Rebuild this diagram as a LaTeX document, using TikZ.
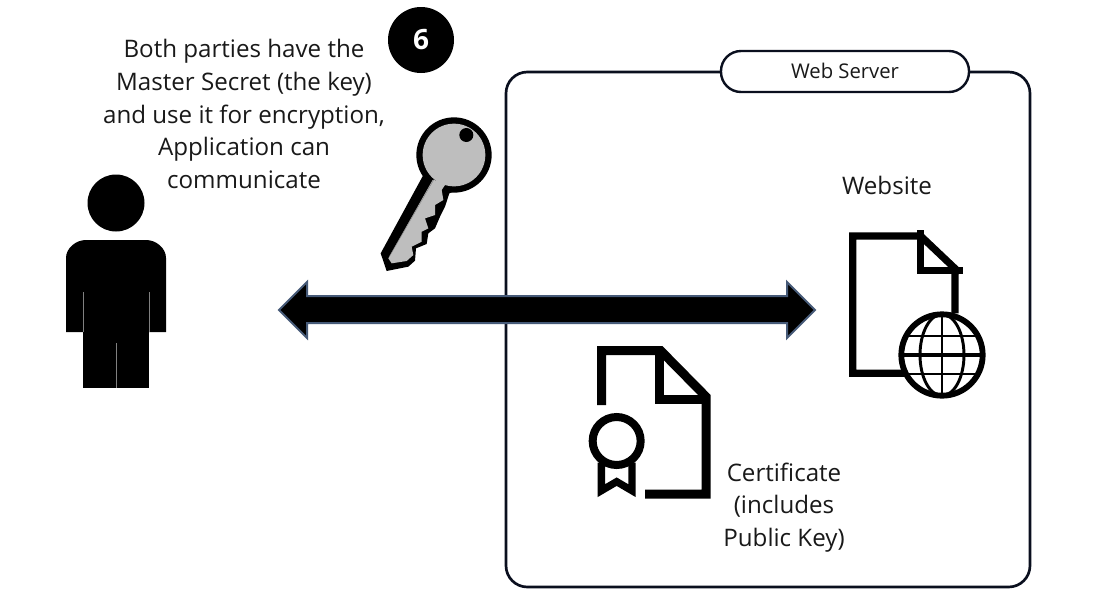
\documentclass[tikz,border=0pt]{standalone}
\usepackage{fontspec}
\setmainfont{Open Sans}
\definecolor{keygrey}{RGB}{190,190,190}
\definecolor{arrowedge}{RGB}{70,90,120}
\definecolor{frame}{RGB}{10,15,30}
\tikzset{
  x=0.75pt,y=-0.75pt,
  lbl/.style={font=\fontsize{18.1pt}{24.4pt}\selectfont,align=center,text=black!90,inner sep=0pt},
  smalllbl/.style={font=\fontsize{15.2pt}{18pt}\selectfont,text=black!90,inner sep=0pt},
  docline/.style={line width=6.75pt,draw=black,miter limit=10},
  globeline/.style={draw=black,line width=2.2pt},
}
\begin{document}
\begin{tikzpicture}
\useasboundingbox[fill=white] (0,0) rectangle (1097,597);
% server frame
\draw[frame,line width=2pt,fill=white,rounded corners=16pt] (506,72) rectangle (1030,587);
\draw[frame,line width=1.8pt,fill=white,rounded corners=15pt] (721,51) rectangle (969,92);
\node[smalllbl] (serverlabel) at (845,71) {Web Server};
% person
\fill (116,203) circle[radius=28.5];
\fill (66,332) -- (66,258) .. controls (66,248) and (76,240) .. (86,240) -- (146,240) .. controls (156,240) and (166,248) .. (166,258) -- (166,332) -- cycle;
\fill (83,300) rectangle (149,388);
\draw[gray,line width=0.5pt] (83,292) -- (83,332) (149,292) -- (149,332) (116,343) -- (116,388);
% circled number
\node[circle,fill=black,minimum size=49.5pt,inner sep=0pt,text=white,font=\fontsize{21pt}{23pt}\selectfont\bfseries] (six) at (421,40) {6};
% text
\node[lbl] (bothparties) at (244,114) {Both parties have the\\Master Secret (the key)\\and use it for encryption,\\Application can\\communicate};
\node[lbl] (website) at (887,185.5) {Website};
\node[lbl] (certificate) at (784,507.5) {Certificate\\(includes\\Public Key)};
% key
\begin{scope}[shift={(360,100)},x=0.25pt,y=-0.25pt]
\fill (190,225) -- (62,460) -- (80,513) -- (145,500) -- (165,482) -- (168,445) -- (200,432) -- (205,400) -- (225,385) -- (240,350) -- (255,320) -- (268,280) -- (290,270) -- cycle;
\fill (282,165) circle[radius=113];
\fill[keygrey] (282,165) circle[radius=94];
\fill[keygrey] (218,240) -- (85,475) -- (95,490) -- (140,483) -- (160,465) -- (155,440) -- (185,425) -- (185,395) -- (205,385) -- (195,355) -- (225,345) -- (225,315) -- (250,300) -- (245,270) -- (262,245) -- cycle;
\draw[gray,line width=0.3pt] (222,238) -- (88,470);
\fill (319,105) circle[radius=21];
\end{scope}
% certificate icon
\begin{scope}[shift={(570,330)},x=0.25pt,y=-0.25pt]
\draw[docline,miter limit=2] (95,225) -- (95,62) -- (272,62) -- (408,200) -- (408,492) -- (225,492);
\draw[docline,miter limit=2] (268,62) -- (268,207) -- (408,207);
\draw[black,line width=6pt] (140,333) circle[radius=72];
\draw[black,line width=5.5pt,miter limit=3] (94,398) -- (94,482) -- (140,455) -- (186,482) -- (186,398);
\end{scope}
% website icon
\begin{scope}[shift={(830,220)},x=0.25pt,y=-0.25pt]
\draw[docline,line width=5.4pt,miter limit=2] (240,460) -- (68,460) -- (68,48) -- (272,48) -- (385,155) -- (375,155) -- (375,280);
\draw[docline,line width=5.4pt,miter limit=2] (272,30) -- (272,152) -- (398,152);
\draw[black,line width=4.4pt,fill=white] (336,405) circle[radius=122];
\draw[globeline] (336,282) -- (336,528);
\draw[globeline] (336,405) ellipse[x radius=66,y radius=122];
\draw[globeline] (227,348) -- (445,348) (227,462) -- (445,462);
\draw[globeline,line width=3pt] (213,404) -- (459,404);
\end{scope}
% double arrow
\draw[arrowedge,line width=1.5pt,fill=black,line join=miter] (279,310) -- (307,282) -- (307,296) -- (787,296) -- (787,282) -- (815,310) -- (787,338) -- (787,323) -- (307,323) -- (307,338) -- cycle;
\end{tikzpicture}
\end{document}
